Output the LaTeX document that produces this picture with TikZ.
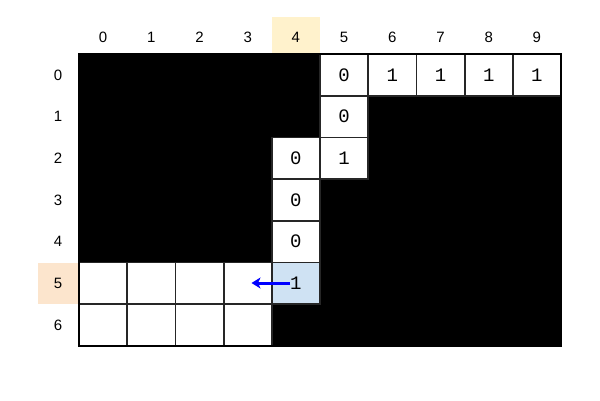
\documentclass[tikz,border=0pt]{standalone}
\usepackage{fontspec}
\setmainfont{Liberation Sans}
\newfontfamily\cellfont{Liberation Mono}
\usetikzlibrary{arrows.meta}
\definecolor{hdrY}{HTML}{FFF2CC}
\definecolor{hdrP}{HTML}{FCE5CD}
\definecolor{curB}{HTML}{CFE2F3}
\begin{document}
\begin{tikzpicture}[x=1pt,y=-1pt,
  cellbox/.style={draw=black!85,line width=1.8pt,fill=white,minimum width=48.2pt,minimum height=41.7pt,inner sep=0pt,font=\cellfont\fontsize{19}{19}\selectfont},
  hdr/.style={inner sep=0pt,font=\fontsize{15}{15}\selectfont}]
\useasboundingbox (0,0) rectangle (600,400);
\fill[black] (79,54) rectangle (561,346);
% highlight headers
\fill[hdrY] (272,17) rectangle (320,54);
\fill[hdrP] (38,262.5) rectangle (78,304.2);
% column headers
\foreach \c in {0,...,9} {
  \node[hdr] (ch\c) at ({79+48.2*(\c+0.5)},37) {\c};
}
\foreach \r in {0,...,6} {
  \node[hdr] (rh\r) at (58,{54+41.7*(\r+0.5)}) {\r};
}
% cells
\foreach \r/\c/\t in {0/5/0,0/6/1,0/7/1,0/8/1,0/9/1,1/5/0,2/4/0,2/5/1,3/4/0,4/4/0,5/0/,5/1/,5/2/,5/3/,6/0/,6/1/,6/2/,6/3/} {
  \node[cellbox] (c\r\c) at ({79+48.2*(\c+0.5)},{54+41.7*(\r+0.5)}) {\t};
}
\node[cellbox,fill=curB] (c54) at ({79+48.2*4.5},{54+41.7*5.5}) {1};
\draw[black,line width=1.8pt] (79,54) rectangle (561,346);
\coordinate (as) at (290,283);
\coordinate (ae) at (251.5,283);
\draw[blue,line width=3pt,-{Stealth[length=9pt,width=11pt,inset=2.5pt]}] (as) -- (ae);
\end{tikzpicture}
\end{document}
